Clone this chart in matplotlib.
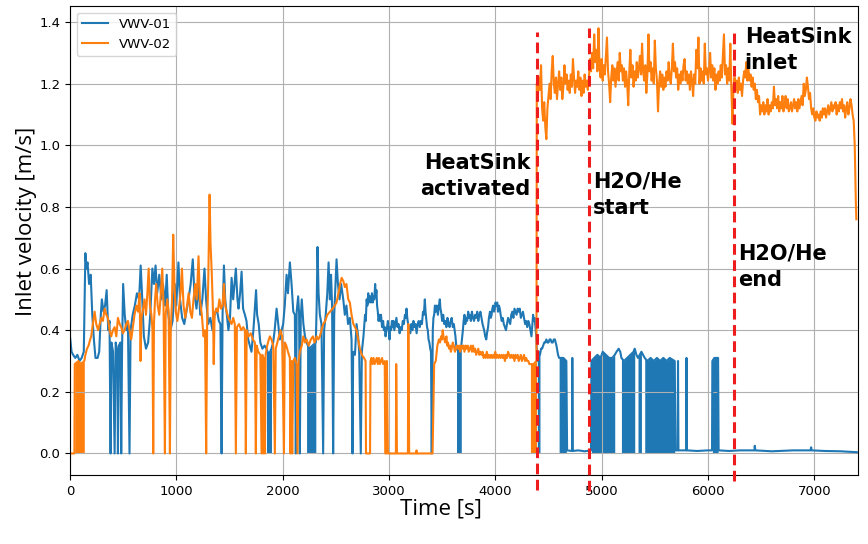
import numpy as np
import matplotlib.pyplot as plt

# VWV-01 readings (time [s], velocity [m/s])
vwv01 = [
    (0, 0.38), (15, 0.33), (30, 0.32), (50, 0.31), (70, 0.32), (90, 0.30), (110, 0.31), (130, 0.33),
    (145, 0.65), (155, 0.60), (165, 0.62), (180, 0.55), (195, 0.58), (210, 0.45), (225, 0.37),
    (240, 0.31), (260, 0.31), (275, 0.33), (290, 0.45), (300, 0.50), (315, 0.46), (330, 0.48),
    (345, 0.53), (360, 0.40), (372, 0.43), (382, 0.0), (390, 0.36), (405, 0.33), (420, 0.0),
    (430, 0.36), (445, 0.33), (451, 0.0), (460, 0.35), (475, 0.36), (482, 0.0), (490, 0.34),
    (500, 0.55), (515, 0.45), (530, 0.40), (545, 0.42), (560, 0.0), (570, 0.40), (590, 0.45),
    (610, 0.48), (630, 0.52), (650, 0.50), (665, 0.61), (680, 0.50), (695, 0.38), (715, 0.34),
    (735, 0.36), (755, 0.45), (775, 0.60), (790, 0.55), (805, 0.61), (820, 0.52), (840, 0.58),
    (860, 0.50), (875, 0.55), (895, 0.48), (910, 0.58), (925, 0.45), (945, 0.40), (965, 0.43),
    (985, 0.55), (1000, 0.48), (1020, 0.62), (1035, 0.50), (1055, 0.44), (1075, 0.42), (1095, 0.46),
    (1115, 0.50), (1135, 0.55), (1155, 0.63), (1170, 0.52), (1190, 0.47), (1210, 0.55), (1225, 0.45),
    (1245, 0.50), (1265, 0.60), (1280, 0.50), (1300, 0.42), (1320, 0.44), (1340, 0.40), (1360, 0.45),
    (1380, 0.47), (1400, 0.43), (1415, 0.42), (1426, 0.0), (1435, 0.45), (1448, 0.61), (1460, 0.50),
    (1475, 0.45), (1490, 0.40), (1505, 0.44), (1520, 0.57), (1535, 0.50), (1548, 0.55), (1560, 0.60),
    (1575, 0.50), (1585, 0.47), (1600, 0.52), (1614, 0.59), (1628, 0.47), (1645, 0.45), (1660, 0.43),
    (1676, 0.37), (1692, 0.35), (1707, 0.33), (1725, 0.40), (1740, 0.48), (1750, 0.53), (1760, 0.45),
    (1775, 0.42), (1790, 0.36), (1810, 0.34), (1830, 0.35), (1848, 0.34), (1870, 0.32), (1895, 0.34),
    (1911, 0.36), (1925, 0.40), (1943, 0.47), (1958, 0.42), (1974, 0.37), (1990, 0.40), (2005, 0.42),
    (2020, 0.48), (2037, 0.58), (2050, 0.52), (2068, 0.62), (2084, 0.55), (2100, 0.46), (2115, 0.45),
    (2124, 0.0), (2132, 0.46), (2146, 0.51), (2155, 0.45), (2162, 0.0), (2170, 0.44), (2180, 0.50),
    (2195, 0.42), (2210, 0.38), (2225, 0.36), (2250, 0.34), (2280, 0.35), (2312, 0.36), (2320, 0.48),
    (2328, 0.67), (2338, 0.52), (2350, 0.45), (2365, 0.42), (2381, 0.0), (2390, 0.40), (2405, 0.45),
    (2420, 0.52), (2432, 0.62), (2444, 0.50), (2455, 0.58), (2465, 0.48), (2475, 0.0), (2485, 0.45),
    (2497, 0.55), (2507, 0.63), (2520, 0.55), (2535, 0.50), (2550, 0.55), (2570, 0.50), (2585, 0.45),
    (2600, 0.48), (2615, 0.42), (2632, 0.44), (2648, 0.37), (2657, 0.0), (2663, 0.33), (2680, 0.32),
    (2695, 0.42), (2710, 0.38), (2720, 0.33), (2735, 0.0), (2745, 0.33), (2760, 0.38), (2775, 0.45),
    (2782, 0.43), (2790, 0.50), (2797, 0.48), (2805, 0.52), (2812, 0.49), (2820, 0.51), (2830, 0.49),
    (2840, 0.52), (2848, 0.49), (2855, 0.51), (2862, 0.50), (2870, 0.55), (2876, 0.51), (2882, 0.53),
    (2888, 0.48), (2895, 0.46), (2902, 0.43), (2910, 0.45), (2918, 0.43), (2925, 0.45), (2935, 0.41),
    (2945, 0.43), (2952, 0.40), (2960, 0.41), (2968, 0.38), (2975, 0.40), (2982, 0.41), (2990, 0.43),
    (2998, 0.40), (3005, 0.37), (3012, 0.41), (3020, 0.40), (3028, 0.43), (3035, 0.41), (3042, 0.43),
    (3050, 0.40), (3060, 0.42), (3070, 0.44), (3080, 0.41), (3090, 0.42), (3100, 0.39), (3110, 0.41),
    (3120, 0.40), (3130, 0.43), (3140, 0.42), (3150, 0.45), (3158, 0.44), (3165, 0.47), (3172, 0.44),
    (3180, 0.42), (3190, 0.41), (3200, 0.39), (3210, 0.42), (3220, 0.40), (3230, 0.43), (3240, 0.41),
    (3250, 0.42), (3260, 0.39), (3270, 0.42), (3280, 0.43), (3290, 0.41), (3300, 0.43), (3310, 0.42),
    (3320, 0.46), (3328, 0.45), (3337, 0.50), (3344, 0.46), (3350, 0.44), (3358, 0.41), (3365, 0.40),
    (3372, 0.37), (3380, 0.36), (3388, 0.34), (3395, 0.33), (3402, 0.0), (3412, 0.40), (3418, 0.44),
    (3425, 0.45), (3432, 0.48), (3440, 0.46), (3450, 0.48), (3460, 0.45), (3470, 0.48), (3478, 0.50),
    (3484, 0.47), (3490, 0.46), (3500, 0.43), (3510, 0.45), (3520, 0.42), (3530, 0.43), (3540, 0.41),
    (3550, 0.44), (3560, 0.42), (3570, 0.41), (3580, 0.43), (3590, 0.44), (3600, 0.41), (3610, 0.42),
    (3625, 0.38), (3635, 0.34), (3660, 0.33), (3680, 0.35), (3695, 0.40), (3702, 0.43), (3710, 0.45),
    (3718, 0.42), (3725, 0.44), (3735, 0.43), (3745, 0.46), (3752, 0.44), (3760, 0.45), (3770, 0.43),
    (3780, 0.46), (3790, 0.44), (3800, 0.43), (3810, 0.45), (3820, 0.44), (3830, 0.46), (3840, 0.43),
    (3850, 0.45), (3860, 0.46), (3870, 0.44), (3880, 0.42), (3888, 0.41), (3895, 0.40), (3905, 0.38),
    (3915, 0.37), (3922, 0.39), (3932, 0.41), (3940, 0.44), (3950, 0.46), (3958, 0.44), (3965, 0.45),
    (3972, 0.47), (3980, 0.48), (3988, 0.46), (3995, 0.47), (4002, 0.49), (4010, 0.48), (4018, 0.49),
    (4025, 0.46), (4034, 0.48), (4042, 0.47), (4050, 0.45), (4060, 0.43), (4070, 0.44), (4080, 0.42),
    (4090, 0.41), (4100, 0.40), (4110, 0.42), (4120, 0.44), (4130, 0.43), (4140, 0.42), (4150, 0.45),
    (4160, 0.46), (4170, 0.44), (4180, 0.47), (4190, 0.46), (4200, 0.45), (4210, 0.47), (4220, 0.46),
    (4230, 0.47), (4240, 0.44), (4250, 0.45), (4260, 0.46), (4270, 0.44), (4280, 0.42), (4290, 0.43),
    (4300, 0.41), (4310, 0.43), (4320, 0.42), (4330, 0.40), (4340, 0.38), (4348, 0.42), (4355, 0.45),
    (4362, 0.43), (4370, 0.44), (4385, 0.38), (4395, 0.30), (4405, 0.33), (4420, 0.32), (4430, 0.34),
    (4440, 0.34), (4450, 0.35), (4460, 0.36), (4470, 0.36), (4480, 0.37), (4490, 0.36), (4500, 0.36),
    (4510, 0.37), (4520, 0.37), (4530, 0.36), (4540, 0.36), (4550, 0.37), (4560, 0.37), (4575, 0.35),
    (4590, 0.32), (4600, 0.31), (4640, 0.31), (4668, 0.30), (4675, 0.01), (4722, 0.008), (4724, 0.31),
    (4728, 0.008), (4780, 0.01), (4840, 0.007), (4900, 0.01), (4904, 0.30), (4930, 0.31), (4960, 0.32),
    (4990, 0.31), (5010, 0.33), (5040, 0.32), (5070, 0.31), (5100, 0.31), (5123, 0.32), (5140, 0.33),
    (5160, 0.34), (5175, 0.33), (5186, 0.31), (5210, 0.30), (5240, 0.31), (5270, 0.32), (5300, 0.33),
    (5311, 0.34), (5327, 0.32), (5342, 0.31), (5374, 0.33), (5390, 0.32), (5405, 0.31), (5430, 0.30),
    (5460, 0.31), (5490, 0.30), (5520, 0.31), (5550, 0.30), (5580, 0.31), (5610, 0.30), (5640, 0.31),
    (5687, 0.30), (5695, 0.01), (5715, 0.01), (5718, 0.30), (5722, 0.01), (5795, 0.01), (5798, 0.31),
    (5802, 0.01), (5900, 0.008), (6000, 0.01), (6038, 0.01), (6041, 0.30), (6060, 0.31), (6080, 0.31),
    (6095, 0.31), (6100, 0.01), (6200, 0.008), (6300, 0.01), (6437, 0.01), (6440, 0.025), (6445, 0.01),
    (6600, 0.007), (6800, 0.01), (6965, 0.01), (6970, 0.02), (6975, 0.01), (7100, 0.008), (7250, 0.007),
    (7400, 0.004),
]

# VWV-02 readings before the HeatSink start (time [s], velocity [m/s])
vwv02 = [
    (0, 0.0), (42, 0.0), (45, 0.29), (80, 0.30), (100, 0.29), (135, 0.30), (145, 0.32), (160, 0.34),
    (175, 0.35), (190, 0.37), (200, 0.38), (215, 0.42), (232, 0.46), (247, 0.42), (265, 0.40),
    (279, 0.42), (295, 0.44), (310, 0.43), (326, 0.47), (342, 0.45), (357, 0.44), (372, 0.40),
    (388, 0.38), (404, 0.40), (420, 0.41), (436, 0.38), (451, 0.44), (467, 0.42), (482, 0.41),
    (498, 0.39), (513, 0.40), (530, 0.42), (545, 0.43), (560, 0.40), (576, 0.37), (592, 0.41),
    (607, 0.45), (625, 0.48), (640, 0.46), (655, 0.52), (664, 0.30), (672, 0.44), (688, 0.47),
    (701, 0.50), (715, 0.45), (728, 0.52), (740, 0.60), (752, 0.48), (766, 0.45), (776, 0.40),
    (783, 0.0), (790, 0.42), (800, 0.50), (811, 0.55), (825, 0.48), (840, 0.45), (855, 0.52),
    (868, 0.60), (880, 0.48), (893, 0.0), (900, 0.45), (915, 0.50), (928, 0.46), (940, 0.0),
    (948, 0.40), (960, 0.50), (971, 0.71), (982, 0.55), (995, 0.46), (1010, 0.43), (1025, 0.47),
    (1040, 0.52), (1053, 0.60), (1068, 0.48), (1085, 0.44), (1100, 0.48), (1116, 0.52), (1132, 0.46),
    (1147, 0.44), (1162, 0.50), (1178, 0.55), (1192, 0.50), (1209, 0.64), (1222, 0.50), (1240, 0.45),
    (1256, 0.38), (1270, 0.40), (1281, 0.0), (1290, 0.42), (1300, 0.55), (1313, 0.84), (1322, 0.68),
    (1334, 0.58), (1345, 0.46), (1352, 0.29), (1360, 0.45), (1375, 0.47), (1390, 0.46), (1405, 0.50),
    (1420, 0.47), (1435, 0.48), (1448, 0.55), (1460, 0.48), (1473, 0.46), (1490, 0.44), (1505, 0.43),
    (1520, 0.42), (1535, 0.44), (1550, 0.42), (1560, 0.0), (1570, 0.41), (1590, 0.42), (1610, 0.40),
    (1630, 0.41), (1645, 0.40), (1654, 0.0), (1662, 0.40), (1680, 0.38), (1700, 0.39), (1720, 0.37),
    (1739, 0.36), (1748, 0.0), (1756, 0.35), (1771, 0.33), (1790, 0.32), (1802, 0.0), (1810, 0.32),
    (1818, 0.0), (1826, 0.31), (1833, 0.0), (1840, 0.32), (1855, 0.35), (1870, 0.37), (1880, 0.38),
    (1895, 0.37), (1911, 0.35), (1927, 0.0), (1935, 0.34), (1950, 0.36), (1965, 0.38), (1980, 0.40),
    (1995, 0.38), (2012, 0.0), (2020, 0.36), (2035, 0.35), (2050, 0.33), (2068, 0.31), (2074, 0.0),
    (2082, 0.30), (2090, 0.0), (2100, 0.30), (2115, 0.31), (2130, 0.29), (2140, 0.0), (2150, 0.30),
    (2162, 0.33), (2180, 0.35), (2194, 0.38), (2210, 0.36), (2225, 0.37), (2245, 0.35), (2265, 0.37),
    (2285, 0.38), (2300, 0.36), (2320, 0.38), (2335, 0.37), (2350, 0.38), (2365, 0.40), (2382, 0.42),
    (2400, 0.43), (2420, 0.45), (2445, 0.46), (2470, 0.47), (2490, 0.48), (2507, 0.49), (2525, 0.52),
    (2540, 0.55), (2555, 0.57), (2570, 0.56), (2585, 0.54), (2600, 0.55), (2617, 0.50), (2632, 0.49),
    (2648, 0.45), (2665, 0.42), (2680, 0.41), (2695, 0.40), (2710, 0.37), (2726, 0.34), (2745, 0.32),
    (2765, 0.31), (2780, 0.30), (2784, 0.0), (2822, 0.0), (2826, 0.30), (2835, 0.31), (2845, 0.29),
    (2855, 0.31), (2865, 0.29), (2875, 0.30), (2885, 0.31), (2895, 0.29), (2905, 0.31), (2915, 0.29),
    (2925, 0.30), (2935, 0.31), (2945, 0.29), (2960, 0.30), (2965, 0.0), (2975, 0.0), (2980, 0.30),
    (2990, 0.0), (3065, 0.0), (3068, 0.29), (3075, 0.0), (3178, 0.0), (3182, 0.42), (3190, 0.0),
    (3255, 0.0), (3259, 0.01), (3262, 0.0), (3410, 0.0), (3425, 0.29), (3440, 0.30), (3455, 0.35),
    (3463, 0.36), (3470, 0.37), (3480, 0.36), (3490, 0.38), (3498, 0.37), (3505, 0.40), (3512, 0.38),
    (3520, 0.37), (3530, 0.36), (3540, 0.38), (3548, 0.35), (3555, 0.36), (3565, 0.34), (3575, 0.35),
    (3582, 0.33), (3590, 0.34), (3600, 0.36), (3610, 0.35), (3620, 0.33), (3630, 0.34), (3640, 0.35),
    (3650, 0.34), (3660, 0.35), (3670, 0.33), (3680, 0.35), (3690, 0.34), (3700, 0.35), (3710, 0.33),
    (3720, 0.35), (3730, 0.34), (3740, 0.35), (3750, 0.33), (3760, 0.34), (3770, 0.35), (3780, 0.33),
    (3790, 0.35), (3800, 0.33), (3810, 0.34), (3820, 0.32), (3830, 0.33), (3840, 0.34), (3850, 0.32),
    (3860, 0.33), (3870, 0.32), (3880, 0.33), (3890, 0.31), (3900, 0.32), (3910, 0.31), (3920, 0.33),
    (3930, 0.31), (3940, 0.32), (3950, 0.31), (3960, 0.32), (3970, 0.31), (3980, 0.32), (3990, 0.31),
    (4000, 0.33), (4010, 0.31), (4020, 0.32), (4030, 0.31), (4040, 0.32), (4050, 0.31), (4060, 0.32),
    (4070, 0.31), (4080, 0.32), (4090, 0.30), (4100, 0.32), (4110, 0.31), (4120, 0.33), (4130, 0.32),
    (4140, 0.31), (4150, 0.32), (4160, 0.31), (4170, 0.32), (4180, 0.30), (4190, 0.32), (4200, 0.31),
    (4210, 0.32), (4220, 0.30), (4230, 0.31), (4240, 0.32), (4250, 0.30), (4260, 0.31), (4270, 0.32),
    (4280, 0.30), (4290, 0.31), (4300, 0.30), (4310, 0.30), (4320, 0.29), (4330, 0.29), (4360, 0.29),
    (4387, 0.30),
]

# VWV-02 after the HeatSink start, read every 10 s from 4390 s
vwv02_high_t0 = 4390
vwv02_high_step = 10
vwv02_high = [
    1.20, 1.16, 1.22, 1.18, 1.26, 1.12, 1.08, 1.14, 1.06, 1.02, 1.12, 1.16, 1.20, 1.15, 1.24, 1.29, 1.20, 1.17, 1.22, 1.15,
    1.20, 1.24, 1.18, 1.22, 1.15, 1.19, 1.26, 1.20, 1.23, 1.18, 1.21, 1.17, 1.23, 1.19, 1.28, 1.22, 1.17, 1.21, 1.19, 1.24,
    1.18, 1.22, 1.16, 1.21, 1.17, 1.23, 1.19, 1.21, 1.18, 1.22, 1.28, 1.24, 1.30, 1.25, 1.36, 1.27, 1.31, 1.24, 1.38, 1.26,
    1.22, 1.28, 1.21, 1.26, 1.23, 1.29, 1.35, 1.24, 1.20, 1.14, 1.22, 1.26, 1.21, 1.25, 1.19, 1.23, 1.27, 1.21, 1.30, 1.24,
    1.26, 1.21, 1.25, 1.19, 1.24, 1.20, 1.13, 1.24, 1.31, 1.22, 1.26, 1.19, 1.24, 1.21, 1.27, 1.22, 1.25, 1.29, 1.23, 1.33,
    1.24, 1.21, 1.26, 1.17, 1.23, 1.36, 1.24, 1.27, 1.21, 1.25, 1.20, 1.34, 1.25, 1.21, 1.11, 1.20, 1.24, 1.19, 1.23, 1.18,
    1.22, 1.19, 1.24, 1.21, 1.27, 1.22, 1.20, 1.25, 1.33, 1.24, 1.27, 1.22, 1.25, 1.18, 1.23, 1.20, 1.24, 1.21, 1.26, 1.28,
    1.21, 1.24, 1.20, 1.23, 1.18, 1.24, 1.21, 1.16, 1.23, 1.20, 1.31, 1.25, 1.35, 1.20, 1.25, 1.21, 1.24, 1.20, 1.33, 1.23,
    1.25, 1.21, 1.24, 1.30, 1.22, 1.26, 1.21, 1.25, 1.18, 1.23, 1.20, 1.24, 1.21, 1.26, 1.22, 1.29, 1.36, 1.23, 1.26, 1.20,
    1.25, 1.21, 1.33, 1.18, 1.07, 1.19, 1.22, 1.18, 1.21, 1.17, 1.22, 1.18, 1.20, 1.16, 1.21, 1.24, 1.22, 1.27, 1.21, 1.25,
    1.21, 1.23, 1.19, 1.22, 1.18, 1.20, 1.15, 1.18, 1.14, 1.16, 1.10, 1.13, 1.11, 1.14, 1.10, 1.13, 1.11, 1.15, 1.10, 1.13,
    1.11, 1.14, 1.12, 1.19, 1.13, 1.15, 1.12, 1.16, 1.11, 1.14, 1.12, 1.16, 1.11, 1.13, 1.16, 1.12, 1.15, 1.11, 1.12, 1.14,
    1.11, 1.13, 1.15, 1.12, 1.14, 1.11, 1.15, 1.12, 1.14, 1.16, 1.13, 1.20, 1.16, 1.18, 1.22, 1.19, 1.15, 1.17, 1.12, 1.10,
    1.12, 1.09, 1.08, 1.11, 1.09, 1.10, 1.08, 1.11, 1.09, 1.12, 1.10, 1.12, 1.09, 1.11, 1.13, 1.10, 1.12, 1.14, 1.11, 1.13,
    1.12, 1.14, 1.10, 1.13, 1.11, 1.14, 1.12, 1.15, 1.11, 1.13, 1.09, 1.12, 1.14, 1.10, 1.12, 1.15, 1.13, 1.10, 1.08, 1.00,
    0.82,
]
vwv02_end = [(7395, 0.76)]

# stretches where the signal flickers to zero so fast it reads as a solid band
burst01_start = [1848, 2225, 3635, 4395, 4600, 4904, 5186, 5342, 5405, 6041]
burst01_end = [1895, 2312, 3680, 4420, 4668, 5123, 5311, 5374, 5687, 6095]
burst02_start = [45, 4330]
burst02_end = [135, 4387]

# events
event_t = [4390, 4880, 6240]
event_top = [1.367, 1.38, 1.38]
event_bottom = [-0.12, -0.123, -0.09]
labels = ["HeatSink\nactivated", "H2O/He\nstart", "HeatSink\ninlet", "H2O/He\nend"]
label_x = [4333, 4916, 6345, 6279]
label_y = [0.975, 0.915, 1.385, 0.68]
label_ha = ["right", "left", "left", "left"]

t1, v1 = np.array(vwv01).T
t2a, v2a = np.array(vwv02).T
t2b = vwv02_high_t0 + vwv02_high_step * np.arange(len(vwv02_high))
t2c, v2c = np.array(vwv02_end).T
t2 = np.concatenate([t2a, t2b, t2c])
v2 = np.concatenate([v2a, vwv02_high, v2c])

fig = plt.figure(figsize=(8.68, 5.44), dpi=100)
ax = fig.add_axes([0.0806, 0.1268, 0.9078, 0.8621])

ax.plot(t1, v1, color='#1f77b4', lw=1.5, label='VWV-01')
for s, e in zip(burst01_start, burst01_end):
    m = (t1 >= s) & (t1 <= e)
    ax.fill_between(t1[m], 0, v1[m], color='#1f77b4', lw=0)
ax.plot(t2, v2, color='#ff7f0e', lw=1.5, label='VWV-02')
for s, e in zip(burst02_start, burst02_end):
    m = (t2 >= s) & (t2 <= e)
    ax.fill_between(t2[m], 0, v2[m], color='#ff7f0e', lw=0)

for x, y0, y1 in zip(event_t, event_bottom, event_top):
    ax.plot([x, x], [y0, y1], color='#ee1c1c', lw=2.2, ls=(0, (3.5, 1.8)),
            clip_on=False, zorder=5)

for s, x, y, ha in zip(labels, label_x, label_y, label_ha):
    ax.text(x, y, s, ha=ha, va='top', fontsize=15, fontweight='bold',
            linespacing=1.38, zorder=6)

ax.set_xlim(0, 7410)
ax.set_ylim(-0.07, 1.452)
ax.set_yticks(np.arange(0, 1.41, 0.2))
ax.tick_params(labelsize=9.5)
ax.grid(True)

ax.set_xlabel('Time [s]', fontsize=16, family='Open Sans')
ax.set_ylabel('Inlet velocity [m/s]', fontsize=16, family='Open Sans')
ax.xaxis.set_label_coords(0.471, -0.05)
ax.yaxis.set_label_coords(-0.042, 0.54)

ax.legend(loc='upper left', fontsize=9.5)

fig.savefig('out.png', dpi=100)
